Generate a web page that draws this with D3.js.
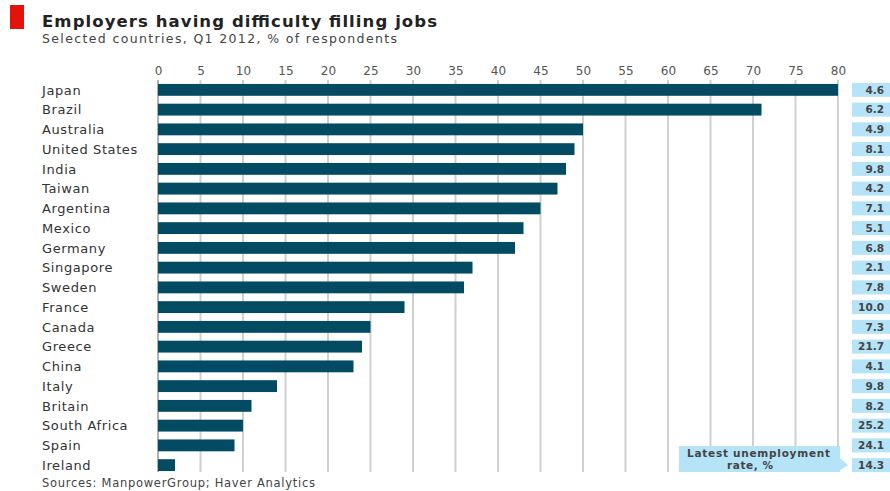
<!DOCTYPE html>
<html><head><meta charset="utf-8">
<script src="https://cdn.jsdelivr.net/npm/d3@7"></script>
<style>body{margin:0;background:#fff}svg{display:block}</style>
</head><body>
<script>
const countries = ["Japan","Brazil","Australia","United States","India","Taiwan","Argentina","Mexico","Germany","Singapore","Sweden","France","Canada","Greece","China","Italy","Britain","South Africa","Spain","Ireland"];
const difficulty = [80,71,50,49,48,47,45,43,42,37,36,29,25,24,23,14,11,10,9,2];
const unemployment = ["4.6","6.2","4.9","8.1","9.8","4.2","7.1","5.1","6.8","2.1","7.8","10.0","7.3","21.7","4.1","9.8","8.2","25.2","24.1","14.3"];
const ticks = [0,5,10,15,20,25,30,35,40,45,50,55,60,65,70,75,80];

const W=890,H=491;
const svg=d3.select("body").append("svg").attr("width",W).attr("height",H);
const font="'DejaVu Sans', sans-serif";

function spread(sel, target){
  return sel.attr("textLength",target).attr("lengthAdjust","spacing");
}

svg.append("rect").attr("x",10).attr("y",5).attr("width",14).attr("height",24).attr("fill","#e3120b");
spread(svg.append("text").attr("x",42).attr("y",26.5).text("Employers having difficulty filling jobs")
  .attr("font-family",font).attr("font-weight",700).attr("font-size",16.5).attr("fill","#222"),395);
spread(svg.append("text").attr("x",42).attr("y",43).text("Selected countries, Q1 2012, % of respondents")
  .attr("font-family",font).attr("font-size",12.5).attr("fill","#444"),355);

const x=d3.scaleLinear().domain([0,80]).range([158,838]);
const y=d3.scaleBand().domain(countries).range([80,475]).paddingInner(0.4).paddingOuter(0.2);

// gridlines
svg.append("g").selectAll("line").data(ticks).join("line")
  .attr("x1",d=>x(d)).attr("x2",d=>x(d)).attr("y1",80).attr("y2",472)
  .attr("stroke",d=>d===0?"#999":"#d0d0d0").attr("stroke-width",d=>d===0?1.5:2);

// axis labels
const ax=svg.append("g").attr("transform","translate(0,75)").call(d3.axisTop(x).tickValues(ticks).tickSize(0).tickPadding(0));
ax.select(".domain").remove();
ax.selectAll("text").attr("font-family",font).attr("font-size",12).attr("fill","#555");

// bars
svg.selectAll("rect.bar").data(countries).join("rect").attr("class","bar")
  .attr("x",x(0)).attr("y",d=>y(d)).attr("height",y.bandwidth())
  .attr("width",(d,i)=>x(difficulty[i])-x(0)).attr("fill","#024b63");

// labels
svg.selectAll("text.cat").data(countries).join("text").attr("class","cat")
  .attr("x",42).attr("y",d=>y(d)+y.bandwidth()/2).attr("dy","0.36em").text(d=>d)
  .attr("font-family",font).attr("font-size",13).attr("letter-spacing",0.6).attr("fill","#333");

// unemployment boxes
svg.selectAll("rect.ub").data(countries).join("rect").attr("class","ub")
  .attr("x",852).attr("y",d=>y(d)+y.bandwidth()/2-7).attr("width",38).attr("height",14).attr("fill","#b5e3f7");
svg.selectAll("text.uv").data(countries).join("text").attr("class","uv")
  .attr("x",884).attr("y",d=>y(d)+y.bandwidth()/2).attr("dy","0.36em").attr("text-anchor","end")
  .text((d,i)=>unemployment[i]).attr("font-family",font).attr("font-weight",700).attr("font-size",10.5).attr("fill","#444");

// callout
const cy=y("Ireland")+y.bandwidth()/2;
svg.append("path").attr("d",`M679,446 H840 V458 L848,${cy} L840,470 V472 H679 Z`).attr("fill","#b5e3f7");
spread(svg.append("text").attr("x",687).attr("y",457).text("Latest unemployment")
  .attr("font-family",font).attr("font-weight",700).attr("font-size",10.5).attr("fill","#444"),143);
spread(svg.append("text").attr("x",727).attr("y",469).text("rate, %")
  .attr("font-family",font).attr("font-weight",700).attr("font-size",10.5).attr("fill","#444"),46);

spread(svg.append("text").attr("x",42).attr("y",487).text("Sources: ManpowerGroup; Haver Analytics")
  .attr("font-family",font).attr("font-size",11.5).attr("fill","#444"),273);
</script>
</body></html>
